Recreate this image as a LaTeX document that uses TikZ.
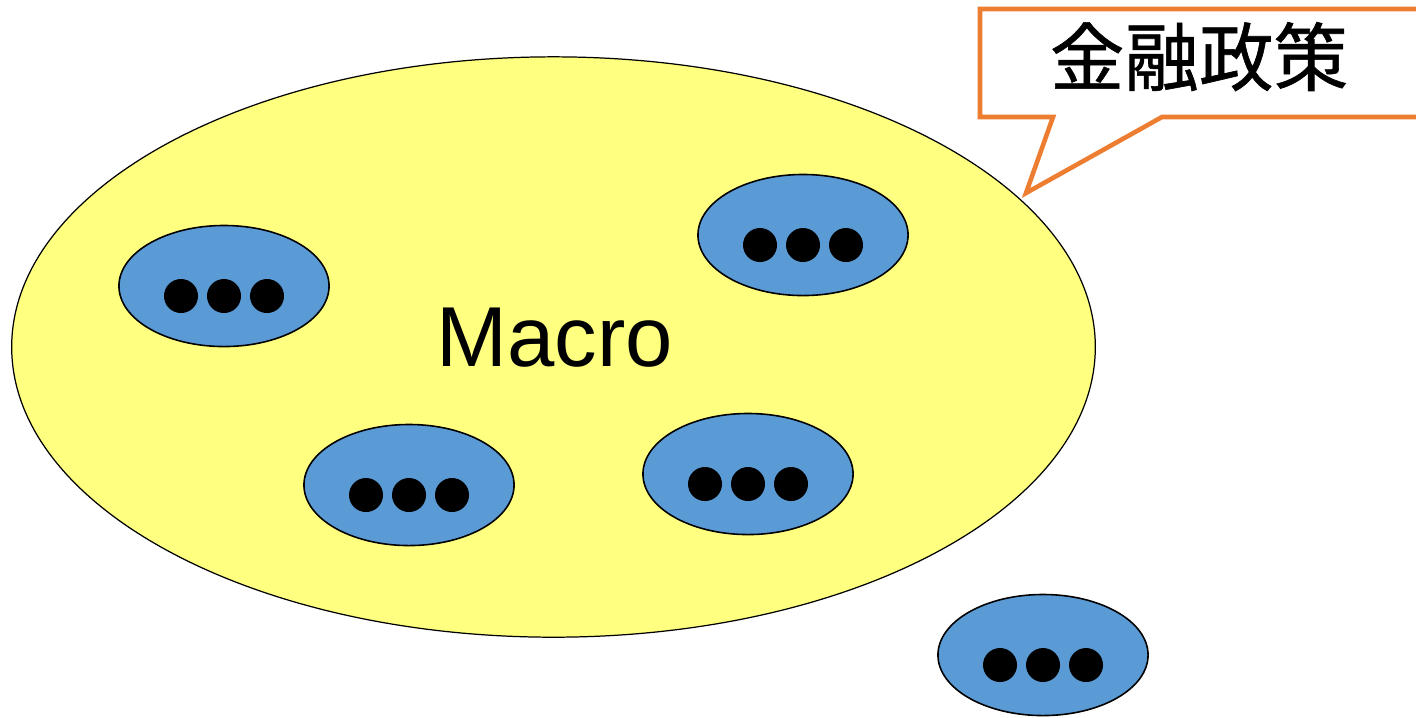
\documentclass[tikz,border=0pt]{standalone}
\usepackage{fontspec}
\setmainfont{Liberation Sans}
\newfontfamily\cjk[FakeBold=0.8]{Noto Sans CJK JP}
\usetikzlibrary{shapes.geometric}
\definecolor{macroyellow}{HTML}{FFFF80}
\definecolor{agentblue}{HTML}{5B9BD5}
\definecolor{calloutorange}{HTML}{ED7D31}
\tikzset{
  macro/.style={ellipse, draw=black, line width=0.35pt, fill=macroyellow,
    minimum width=10.83cm, minimum height=5.80cm, inner sep=0pt},
  agent/.style={ellipse, draw=black, line width=0.45pt, fill=agentblue,
    minimum width=2.10cm, minimum height=1.21cm, inner sep=0pt},
  callout/.style={draw=calloutorange, line width=1.3pt, fill=white, line join=miter},
  dot/.style={fill=black}
}
% three dots inside an agent ellipse
\newcommand{\agentdots}[1]{%
  \foreach \dx in {-43,0,43}
    \fill[dot] ([shift={(\dx*0.01cm,-0.10cm)}]#1.center) circle (0.17cm);}
\begin{document}
\begin{tikzpicture}[x=0.01cm, y=-0.01cm]
  \useasboundingbox (0,0) rectangle (1416,717);
  \clip (0,0) rectangle (1416,717);

  % the economy as a whole
  \node[macro] (economy) at (553.5,347) {};
  \node[font=\fontsize{24.2}{29}\selectfont, anchor=base] (macrolabel) at (555,366) {Macro};

  % individual agents
  \node[agent] (a1) at (224,286) {};
  \node[agent] (a2) at (803,235) {};
  \node[agent] (a3) at (409,485) {};
  \node[agent] (a4) at (748,474) {};
  \node[agent] (a5) at (1043,655) {};
  \agentdots{a1}
  \agentdots{a2}
  \agentdots{a3}
  \agentdots{a4}
  \agentdots{a5}

  % speech-bubble for monetary policy
  \coordinate (tip) at (1026,193);
  \draw[callout] (1440,9) -- (980,9) -- (980,117) -- (1053,117) -- (tip)
    -- (1162,117) -- (1440,117);
  \node[font=\cjk\fontsize{21.2}{26}\selectfont, anchor=base] (policy) at (1199,85) {金融政策};
\end{tikzpicture}
\end{document}
